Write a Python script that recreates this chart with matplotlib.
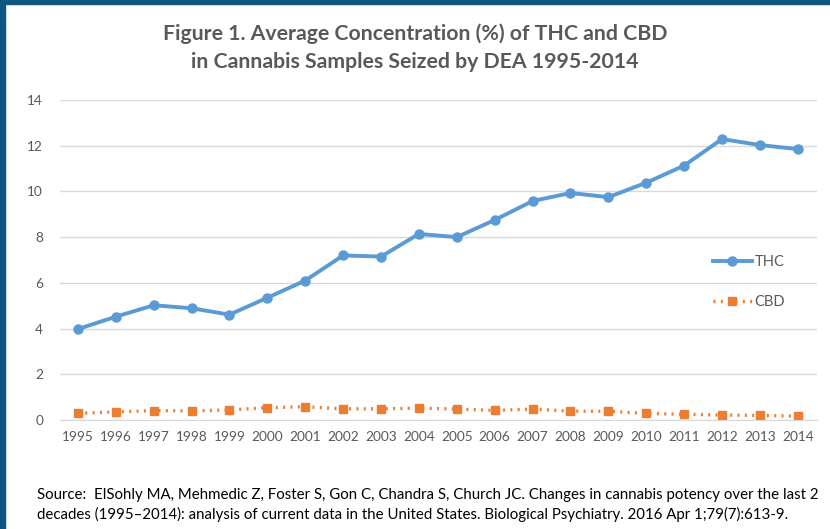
import matplotlib
matplotlib.use('Agg')
import matplotlib.pyplot as plt
from matplotlib.patches import Rectangle

years = [str(y) for y in range(1995, 2015)]
thc = [3.98, 4.52, 5.02, 4.89, 4.61, 5.35, 6.10, 7.20, 7.15, 8.14,
       8.00, 8.75, 9.58, 9.93, 9.75, 10.38, 11.13, 12.29, 12.03, 11.85]
cbd = [0.29, 0.36, 0.41, 0.40, 0.44, 0.54, 0.58, 0.49, 0.49, 0.52,
       0.48, 0.42, 0.48, 0.39, 0.38, 0.29, 0.25, 0.22, 0.20, 0.17]
y_ticks = [0, 2, 4, 6, 8, 10, 12, 14]

title = 'Figure 1. Average Concentration (%) of THC and CBD\nin Cannabis Samples Seized by DEA 1995-2014'
source = ('Source:  ElSohly MA, Mehmedic Z, Foster S, Gon C, Chandra S, Church JC. Changes in cannabis potency over the last 2\n'
          'decades (1995\u20132014): analysis of current data in the United States. Biological Psychiatry. 2016 Apr 1;79(7):613-9.')

blue = '#5B9BD5'
orange = '#ED7D31'
grey = '#595959'

plt.rcParams['font.family'] = ['Lato', 'DejaVu Sans']

fig = plt.figure(figsize=(8.3, 5.29), dpi=100)
fig.patch.set_facecolor('white')

# dark blue frame on the left and top
fig.add_artist(Rectangle((0, 0), 5 / 830, 1, transform=fig.transFigure, color='#0E5580', zorder=10))
fig.add_artist(Rectangle((0, 1 - 4 / 529), 1, 4 / 529, transform=fig.transFigure, color='#0E5580', zorder=10))

ax = fig.add_axes([0.072, 0.206, 0.912, 0.605])
x = list(range(len(years)))
ax.plot(x, thc, color=blue, lw=2.8, marker='o', ms=6.5, label='THC')
ax.plot(x, cbd, color=orange, lw=2.4, ls=(0, (0.6, 1.6)), marker='s', ms=5.5, label='CBD')

ax.set_xlim(-0.48, 19.5)
ax.set_ylim(0, 14)
ax.set_yticks(y_ticks)
ax.set_xticks(x)
ax.set_xticklabels(years)
ax.grid(axis='y', color='#D9D9D9', lw=1)
ax.set_axisbelow(True)
for s in ['top', 'right', 'left']:
    ax.spines[s].set_visible(False)
ax.spines['bottom'].set_color('#D9D9D9')
ax.tick_params(axis='both', length=0, colors=grey, labelsize=9.8)
ax.tick_params(axis='y', pad=12)
ax.tick_params(axis='x', pad=8)

leg = ax.legend(loc='upper left', bbox_to_anchor=(0.8626, 0.515), frameon=False,
                fontsize=10.5, handlelength=2.67, handletextpad=0.2, labelspacing=1.8,
                borderpad=0, borderaxespad=0, labelcolor=grey)

fig.text(0.5, 0.910, title, ha='center', va='center', fontsize=15.3,
         fontweight='bold', color=grey, linespacing=1.5)
fig.text(0.045, 0.0454, source, ha='left', va='center', fontsize=10.8,
         color='black', linespacing=1.35)

fig.savefig('out.png', dpi=100)
